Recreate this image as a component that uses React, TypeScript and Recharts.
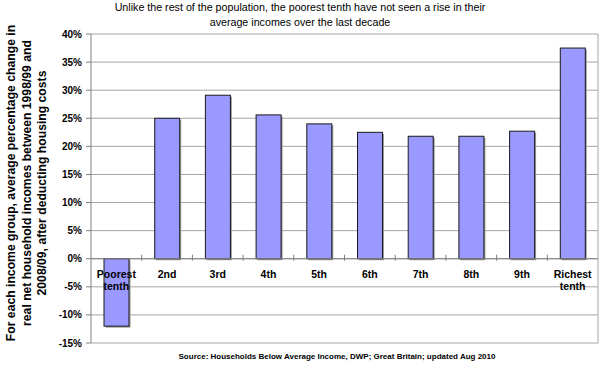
import { BarChart, Bar, XAxis, YAxis, CartesianGrid, ReferenceLine } from 'recharts';

const categories = ['Poorest tenth', '2nd', '3rd', '4th', '5th', '6th', '7th', '8th', '9th', 'Richest tenth'];
const incomeChange = [-12, 25, 29.1, 25.6, 24, 22.5, 21.8, 21.8, 22.7, 37.5];
const yTicks = [-15, -10, -5, 0, 5, 10, 15, 20, 25, 30, 35, 40];

const data = categories.map((name, i) => ({ name, value: incomeChange[i] }));

const W = 608;
const H = 370;
const MARGIN = { top: 34, right: 9, bottom: 26, left: 0 };
const X_AXIS_H = 1;
const Y_AXIS_W = 91;
const Y_MIN = -15;
const Y_MAX = 40;
const PLOT_W = W - MARGIN.left - MARGIN.right - Y_AXIS_W - 1;
const PLOT_H = H - MARGIN.top - MARGIN.bottom - X_AXIS_H;
const ZERO_Y = MARGIN.top + (PLOT_H * Y_MAX) / (Y_MAX - Y_MIN);
const BAND = PLOT_W / categories.length;

const FONT = 'Arial, "Liberation Sans", sans-serif';

const renderShadowBar = (props: any) => {
  const { x, y, width, height } = props;
  if (x == null || y == null) return <g />;
  const top = Math.min(y, y + height);
  const h = Math.abs(height);
  return (
    <g>
      <rect x={x + 1.5} y={top + 1.5} width={width} height={h} fill="#9a9a9a" />
      <rect x={x} y={top} width={width} height={h} fill="#9999FF" stroke="#1a1a1a" strokeWidth={1} />
    </g>
  );
};

const CategoryTick = (props: any) => {
  const { x, payload, index } = props;
  const words = String(payload.value).split(' ');
  const lines = words.length > 1 ? [words[0], words.slice(1).join(' ')] : words;
  return (
    <g>
      {index > 0 && (
        <line x1={x - BAND / 2} x2={x - BAND / 2} y1={ZERO_Y - 4} y2={ZERO_Y + 2} stroke="#808080" />
      )}
      {lines.map((l, i) => (
        <text
          key={i}
          x={x}
          y={ZERO_Y + 19 + i * 12}
          textAnchor="middle"
          fontFamily={FONT}
          fontSize={10.5}
          fontWeight="bold"
          fill="#000"
        >
          {l}
        </text>
      ))}
    </g>
  );
};

export default function App() {
  return (
    <div style={{ position: 'absolute', left: 0, top: 0, width: W, height: H, background: '#fff', fontFamily: FONT }}>
      <BarChart width={W} height={H} data={data} margin={MARGIN} barSize={25}>
        <CartesianGrid vertical={false} stroke="#a6a6a6" />
        <XAxis
          dataKey="name"
          height={X_AXIS_H}
          axisLine={false}
          tickLine={false}
          interval={0}
          tick={<CategoryTick />}
        />
        <YAxis
          width={Y_AXIS_W}
          domain={[Y_MIN, Y_MAX]}
          ticks={yTicks}
          interval={0}
          tickFormatter={(v: number) => `${v}%`}
          axisLine={{ stroke: '#808080' }}
          tickLine={{ stroke: '#808080' }}
          tickSize={5}
          tickMargin={4}
          tick={{ fontFamily: FONT, fontSize: 10, fontWeight: 'bold', fill: '#000' }}
        />
        <YAxis
          yAxisId="right"
          orientation="right"
          width={1}
          domain={[Y_MIN, Y_MAX]}
          tick={false}
          tickLine={false}
          axisLine={{ stroke: '#a6a6a6' }}
        />
        <ReferenceLine y={0} stroke="#808080" strokeWidth={1} />
        <Bar dataKey="value" fill="#9999FF" shape={renderShadowBar} isAnimationActive={false} />
      </BarChart>

      <div
        style={{
          position: 'absolute',
          left: 0,
          top: 0,
          width: 600,
          textAlign: 'center',
          fontSize: 10.7,
          lineHeight: '15px',
          color: '#000',
        }}
      >
        Unlike the rest of the population, the poorest tenth have not seen a rise in their
        <br />
        average incomes over the last decade
      </div>

      <div
        style={{
          position: 'absolute',
          left: 27,
          top: 183,
          transform: 'translate(-50%, -50%) rotate(-90deg)',
          width: 340,
          textAlign: 'center',
          fontSize: 12.2,
          fontWeight: 'bold',
          lineHeight: '15.5px',
          color: '#000',
          whiteSpace: 'nowrap',
        }}
      >
        For each income group, average percentage change in
        <br />
        real net household incomes between 1998/99 and
        <br />
        2008/09, after deducting housing costs
      </div>

      <div
        style={{
          position: 'absolute',
          left: 137,
          top: 352,
          width: 400,
          textAlign: 'center',
          fontSize: 8,
          fontWeight: 'bold',
          color: '#000',
        }}
      >
        Source: Households Below Average Income, DWP; Great Britain; updated Aug 2010
      </div>
    </div>
  );
}
